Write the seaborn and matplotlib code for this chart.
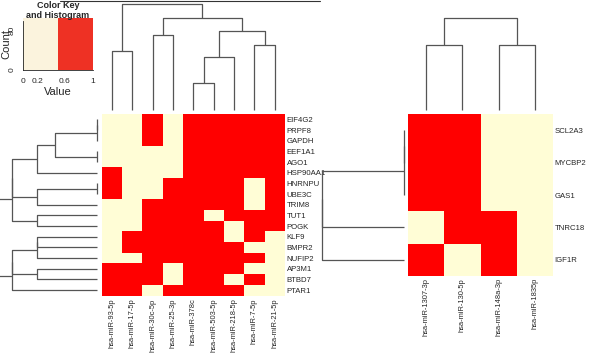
import numpy as np
import pandas as pd
import matplotlib
matplotlib.use("Agg")
import matplotlib.pyplot as plt
import seaborn as sns
from matplotlib.colors import ListedColormap

# ---------------- data ----------------
left_genes = ["EIF4G2", "PRPF8", "GAPDH", "EEF1A1", "AGO1", "HSP90AA1", "HNRNPU",
              "UBE3C", "TRIM8", "TUT1", "POGK", "KLF9", "BMPR2", "NUFIP2", "AP3M1",
              "BTBD7", "PTAR1"]
left_mirs = ["hsa-miR-93-5p", "hsa-miR-17-5p", "hsa-miR-30c-5p", "hsa-miR-25-3p",
             "hsa-miR-378c", "hsa-miR-503-5p", "hsa-miR-218-5p", "hsa-miR-7-5p",
             "hsa-miR-21-5p"]
left_values = [
    [0, 0, 1, 0, 1, 1, 1, 1, 1],
    [0, 0, 1, 0, 1, 1, 1, 1, 1],
    [0, 0, 1, 0, 1, 1, 1, 1, 1],
    [0, 0, 0, 0, 1, 1, 1, 1, 1],
    [0, 0, 0, 0, 1, 1, 1, 1, 1],
    [1, 0, 0, 0, 1, 1, 1, 1, 1],
    [1, 0, 0, 1, 1, 1, 1, 0, 1],
    [1, 0, 0, 1, 1, 1, 1, 0, 1],
    [0, 0, 1, 1, 1, 1, 1, 0, 1],
    [0, 0, 1, 1, 1, 0, 1, 1, 1],
    [0, 0, 1, 1, 1, 1, 0, 1, 1],
    [0, 1, 1, 1, 1, 1, 0, 1, 0],
    [0, 1, 1, 1, 1, 1, 1, 0, 0],
    [0, 0, 1, 1, 1, 1, 1, 1, 0],
    [1, 1, 1, 0, 1, 1, 1, 0, 0],
    [1, 1, 1, 0, 1, 1, 0, 1, 0],
    [1, 1, 0, 1, 1, 1, 1, 0, 0],
]
right_genes = ["SCL2A3", "MYCBP2", "GAS1", "TNRC18", "IGF1R"]
right_mirs = ["hsa-miR-1307-3p", "hsa-miR-130-5p", "hsa-miR-148a-3p", "hsa-miR-1835p"]
right_values = [
    [1, 1, 0, 0],
    [1, 1, 0, 0],
    [1, 1, 0, 0],
    [0, 1, 1, 0],
    [1, 0, 1, 0],
]
# dendrogram topologies (leaf indices in display order)
upper_rows = (((((0, 1), 2), (3, 4)), 5), ((6, 7), 8))
upper_rows = (upper_rows, (9, 10))
lower_rows = ((((11, 12), 13), (14, 15)), 16)
left_row_tree = (upper_rows, lower_rows)
left_col_tree = ((0, 1), ((2, 3), (((4, 5), 6), (7, 8))))
right_row_tree = ((((0, 1), 2), 3), 4)
right_col_tree = ((0, 1), (2, 3))

key_ticks = [0, 0.2, 0.4, 0.6, 0.8, 1]
key_ticklabels = ["0", "0.2", "", "0.6", "", "1"]
count_ticks = [0, 1, 2, 3, 4, 5]
count_ticklabels = ["0", "", "", "", "80", ""]

# ---------------- style ----------------
sns.set_style("white")
plt.rcParams["font.family"] = ["Liberation Sans", "DejaVu Sans"]

W, H = 600, 356
fig = plt.figure(figsize=(W / 100, H / 100), dpi=100)
fig.patch.set_facecolor("white")

CREAM = "#FFFDD6"
RED = "#FF0000"
LINE = "#555555"
cmap = ListedColormap([CREAM, RED])


def px_axes(x0, y0, x1, y1):
    return fig.add_axes([x0 / W, 1 - y1 / H, (x1 - x0) / W, (y1 - y0) / H])


def leaves(t):
    return [t] if isinstance(t, int) else leaves(t[0]) + leaves(t[1])


def link_height(t, X):
    a, b = leaves(t[0]), leaves(t[1])
    return max(np.sqrt(((X[i] - X[j]) ** 2).sum()) for i in a for j in b)


def draw_tree(ax, t, X, orient):
    if isinstance(t, int):
        return t + 0.5, 0.0
    p0, h0 = draw_tree(ax, t[0], X, orient)
    p1, h1 = draw_tree(ax, t[1], X, orient)
    h = link_height(t, X)
    if orient == "top":
        ax.plot([p0, p0, p1, p1], [h0, h, h, h1], color=LINE, lw=0.9,
                solid_capstyle="butt")
    else:
        ax.plot([h0, h, h, h1], [p0, p0, p1, p1], color=LINE, lw=0.9,
                solid_capstyle="butt")
    return (p0 + p1) / 2, h


def clean(ax):
    ax.set_axis_off()


def heat(ax, values, rows, cols, pad_y, pad_x):
    df = pd.DataFrame(values, index=rows, columns=cols)
    sns.heatmap(df, ax=ax, cmap=cmap, vmin=0, vmax=1, cbar=False,
                xticklabels=True, yticklabels=True)
    ax.yaxis.set_ticks_position("right")
    ax.tick_params(axis="y", labelright=True, labelleft=False, length=0,
                   pad=pad_y, labelsize=5.6, labelrotation=0)
    ax.tick_params(axis="x", length=0, pad=pad_x, labelsize=5.4,
                   labelrotation=90)
    for s in ax.spines.values():
        s.set_visible(False)
    ax.set_xlabel("")
    ax.set_ylabel("")


# ---------------- left heatmap ----------------
LX0, LX1, LY0, LY1 = 101.7, 285, 114, 295.5
axL = px_axes(LX0, LY0, LX1, LY1)
heat(axL, left_values, left_genes, left_mirs, 1.2, 2.0)

Lv = np.array(left_values, dtype=float)
# column dendrogram
axLc = px_axes(LX0, 0, LX1, LY0)
r = link_height(left_col_tree, Lv.T)
draw_tree(axLc, left_col_tree, Lv.T, "top")
axLc.set_xlim(0, Lv.shape[1])
axLc.set_ylim(-0.04 * r, 1.04 * r)
clean(axLc)
# row dendrogram
axLr = px_axes(-12, LY0, LX0, LY1)
r = link_height(left_row_tree, Lv)
draw_tree(axLr, left_row_tree, Lv, "left")
axLr.set_ylim(Lv.shape[0], 0)
axLr.set_xlim(1.04 * r, -0.04 * r)
clean(axLr)

# ---------------- right heatmap ----------------
RX0, RX1, RY0, RY1 = 407.7, 553.3, 114, 276
axR = px_axes(RX0, RY0, RX1, RY1)
heat(axR, right_values, right_genes, right_mirs, 1.0, 1.5)

Rv = np.array(right_values, dtype=float)
axRc = px_axes(RX0, 14.7, RX1, RY0)
r = link_height(right_col_tree, Rv.T)
draw_tree(axRc, right_col_tree, Rv.T, "top")
axRc.set_xlim(0, Rv.shape[1])
axRc.set_ylim(-0.04 * r, 1.04 * r)
clean(axRc)

axRr = px_axes(319, RY0, RX0, RY1)
r = link_height(right_row_tree, Rv)
draw_tree(axRr, right_row_tree, Rv, "left")
axRr.set_ylim(Rv.shape[0], 0)
axRr.set_xlim(1.04 * r, -0.04 * r)
clean(axRr)

# ---------------- colour key ----------------
axK = px_axes(23.3, 18.3, 92.7, 70)
key_cmap = ListedColormap(["#FBF3DD", "#EE3124"])
axK.imshow([[0, 1]], extent=[0, 1, 0, 5.24], aspect="auto", cmap=key_cmap,
           interpolation="nearest")
axK.set_xlim(0, 1)
axK.set_ylim(0, 5.24)
axK.set_xticks(key_ticks)
axK.set_xticklabels(key_ticklabels, fontsize=6)
axK.set_yticks(count_ticks)
axK.set_yticklabels(count_ticklabels, fontsize=6, rotation=90, va="center")
axK.tick_params(axis="both", length=2.5, width=0.6, color="#222222", pad=3)
for side in ["top", "right"]:
    axK.spines[side].set_visible(False)
for side in ["left", "bottom"]:
    axK.spines[side].set_color("#222222")
    axK.spines[side].set_linewidth(0.6)
axK.spines["left"].set_bounds(0, 5)
axK.spines["bottom"].set_bounds(0, 1)
axK.set_xlabel("Value", fontsize=8, labelpad=2)
axK.set_ylabel("Count", fontsize=8, labelpad=-2)

fig.text(58 / W, 1 - 5.5 / H, "Color Key", fontsize=6.5, fontweight="bold",
         ha="center", va="center")
fig.text(58 / W, 1 - 15.5 / H, "and Histogram", fontsize=6.5, fontweight="bold",
         ha="center", va="center")

# thin frame line along the top edge of the crop
fig.add_artist(plt.Line2D([60 / W, 320 / W], [1 - 0.5 / H, 1 - 0.5 / H],
                          color="#333333", lw=0.8))

fig.savefig("out.png", dpi=100, facecolor="white")
